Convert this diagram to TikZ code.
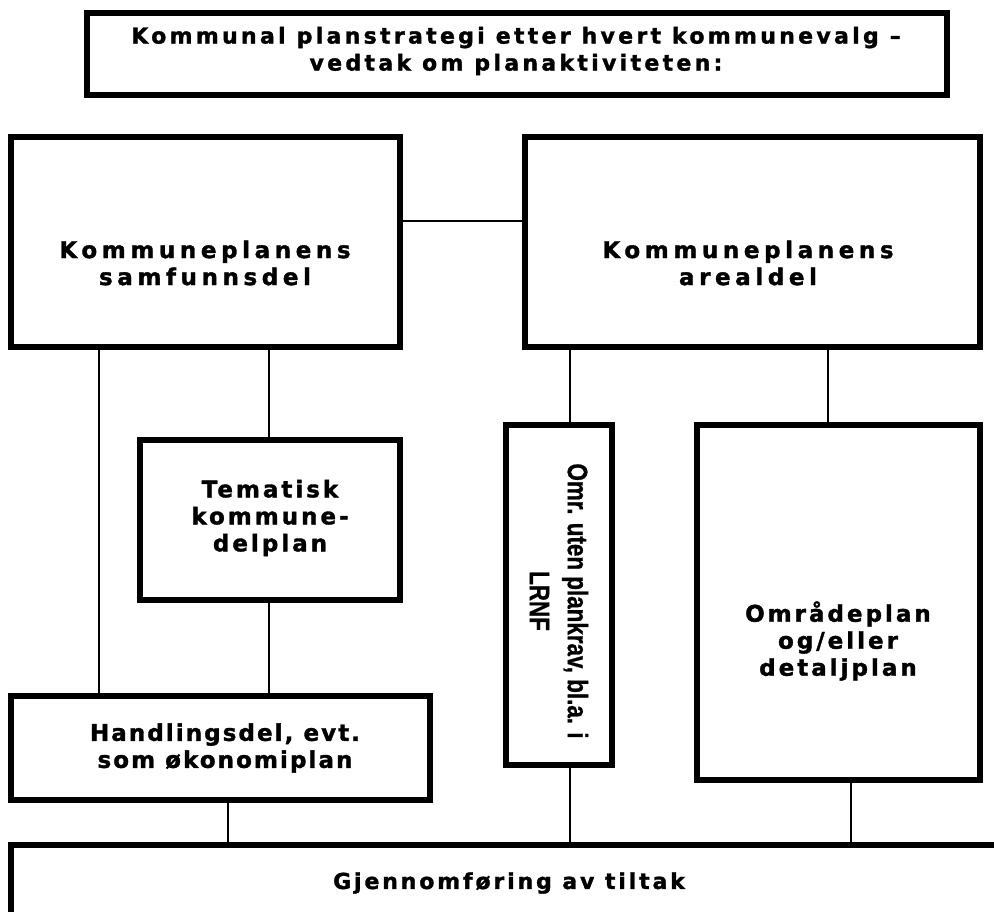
\documentclass[tikz,border=0pt]{standalone}
\usepackage{fontspec}
\newfontfamily\boxfont[FakeBold=1.5]{DejaVu Sans Bold}
\newfontfamily\narrowfont[FakeBold=1]{Liberation Sans Bold}
\begin{document}
\begin{tikzpicture}[x=1pt,y=-1pt,
  box/.style={draw, line width=5.5pt, fill=white, inner sep=0pt},
  conn/.style={line width=2.5pt},
  txt/.style 2 args={font=\boxfont\addfontfeature{LetterSpace=#2}\fontsize{#1}{27}\selectfont, align=center, inner sep=0pt},
  rtxt/.style={font=\narrowfont\fontsize{28}{38}\selectfont, align=center, inner sep=0pt, rotate=-90},
]
\fill[white] (0,0) rectangle (994,912);
\useasboundingbox (0,0) rectangle (994,912);

\node[box, minimum width=860pt, minimum height=82pt] (top) at (517,54) {};
\node[txt={22}{15}] (topt) at (516,51) {Kommunal planstrategi etter hvert kommunevalg –\\vedtak om planaktiviteten:};

\node[box, minimum width=389pt, minimum height=210pt] (L) at (205.5,242) {};
\node[txt={23}{20}] (Lt) at (205,263) {Kommuneplanens\\samfunnsdel};
\node[box, minimum width=455pt, minimum height=210pt] (R) at (752.5,242) {};
\node[txt={23}{20}] (Rt) at (748,263) {Kommuneplanens\\arealdel};

\node[box, minimum width=260pt, minimum height=160pt] (T) at (270,520) {};
\node[txt={23}{13}] (Tt) at (270,518) {Tematisk\\kommune-\\delplan};
\node[box, minimum width=419pt, minimum height=104pt] (H) at (220.5,748) {};
\node[txt={23}{9}] (Ht) at (225,748) {Handlingsdel, evt.\\som økonomiplan};

\node[box, minimum width=106pt, minimum height=340pt] (O) at (559,595) {};
\node[rtxt] (Ot) at (559,601) {\scalebox{0.8}[1]{Omr. uten plankrav, bl.a. i}\\\scalebox{0.8}[1]{LRNF}};

\node[box, minimum width=283pt, minimum height=355pt] (D) at (838.5,602.5) {};
\node[txt={23}{13}] (Dt) at (838,641) {Områdeplan\\og/eller\\detaljplan};

\node[box, minimum width=999pt, minimum height=95pt] (G) at (510.5,892.5) {};
\node[txt={22}{13}] (Gt) at (509,883) {Gjennomføring av tiltak};

\coordinate (c99) at (99,0);
\coordinate (c269) at (269,0);
\coordinate (c570) at (570,0);
\coordinate (c828) at (828,0);
\coordinate (c228) at (228,0);
\coordinate (c851) at (851,0);
\coordinate (c221) at (0,221);

\draw[conn] (L.east |- c221) -- (R.west |- c221);
\draw[conn] (L.south -| c99) -- (H.north -| c99);
\draw[conn] (L.south -| c269) -- (T.north -| c269);
\draw[conn] (T.south -| c269) -- (H.north -| c269);
\draw[conn] (R.south -| c570) -- (O.north -| c570);
\draw[conn] (R.south -| c828) -- (D.north -| c828);
\draw[conn] (H.south -| c228) -- (G.north -| c228);
\draw[conn] (O.south -| c570) -- (G.north -| c570);
\draw[conn] (D.south -| c851) -- (G.north -| c851);
\end{tikzpicture}
\end{document}
